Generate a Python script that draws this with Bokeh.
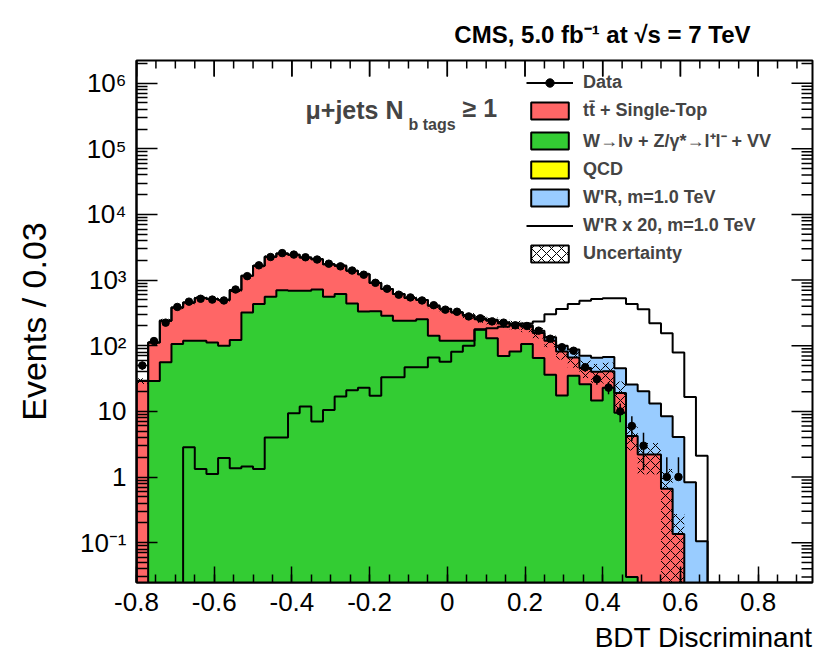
import numpy as np
from bokeh.plotting import figure
from bokeh.models import (Range1d, FixedTicker, Label, Legend, LegendItem, ColumnDataSource, Title)
from bokeh.embed import file_html
from bokeh.resources import INLINE

# ---------------- data ----------------
BIN_LO = -0.8
BIN_W = 0.03
N_BINS = 58

wjets = [0, 29, 56, 106, 119, 119, 112, 100, 122, 321,
         431, 557, 704, 687, 687, 720, 557, 612, 441, 333,
         335, 286, 240, 240, 254, 142, 119, 119, 119, 178,
         130, 70, 82, 106, 65, 36, 17.5, 35, 26, 14.6,
         23, 9.5, 0.03, 0, 0, 0, 0, 0, 0, 0,
         0, 0, 0, 0, 0, 0, 0, 0]

ttbar = [29, 83, 184, 277, 337, 413, 402, 396, 582, 842,
         1219, 1706, 1836, 1739, 1522, 1368, 1194, 1038, 945, 900,
         565, 444, 372, 292, 242, 264, 243, 202, 167, 76,
         110, 149, 127, 88, 92, 83, 64.5, 31, 20, 25.4,
         18, 9.5, 4.17, 2.2, 2.2, 0.66, 0.136, 0, 0, 0,
         0, 0, 0, 0, 0, 0, 0, 0]

wprime = [0, 0, 0, 0, 0.14, 0.067, 0.056, 0.098, 0.068, 0.072,
          0.067, 0.2, 0.2, 0.47, 0.6, 0.35, 0.53, 0.85, 1.05, 1.15,
          0.87, 1.65, 1.65, 2.35, 2.35, 3.3, 2.85, 4.05, 5.0, 8.8,
          9.25, 9.75, 10.25, 10.9, 11.75, 15.2, 18.1, 21.5, 24.2, 25.7,
          26.5, 26.5, 21.5, 18.0, 11.0, 7.75, 3.95, 0.83, 0.105, 0,
          0, 0, 0, 0, 0, 0, 0, 0]

wprime_x20 = [0, 0, 0, 0, 2.83, 1.33, 1.11, 1.95, 1.36, 1.44,
              1.33, 4.0, 4.0, 9.4, 11.9, 7.0, 10.5, 16.9, 21, 23,
              17.3, 33, 33, 47, 47, 66, 57, 81, 100, 176,
              185, 195, 205, 218, 235, 303, 362, 431, 484, 514,
              530, 530, 431, 360, 220, 155, 79, 16.5, 2.1, 0,
              0, 0, 0, 0, 0, 0, 0, 0]

data = [50, 118, 225, 390, 470, 520, 505, 490, 720, 1150,
        1680, 2250, 2580, 2450, 2230, 2060, 1780, 1620, 1400, 1210,
        910, 740, 600, 545, 490, 415, 355, 330, 280, 262,
        235, 225, 205, 200, 170, 128, 95, 84, 47, 31,
        23, 10, 6, 3, 0, 1, 1, 0, 0, 0,
        0, 0, 0, 0, 0, 0, 0, 0]

unc_rel = [0.10, 0.08, 0.07, 0.06, 0.06, 0.06, 0.06, 0.06, 0.06, 0.05,
           0.05, 0.05, 0.05, 0.05, 0.05, 0.05, 0.05, 0.05, 0.05, 0.05,
           0.06, 0.06, 0.06, 0.07, 0.07, 0.08, 0.08, 0.09, 0.10, 0.12,
           0.12, 0.14, 0.15, 0.17, 0.18, 0.20, 0.25, 0.30, 0.30, 0.32,
           0.35, 0.50, 0.40, 0.50, 0.50, 1.0, 1.0, 0, 0, 0,
           0, 0, 0, 0, 0, 0, 0, 0]

x_tick_values = [-0.8, -0.6, -0.4, -0.2, 0, 0.2, 0.4, 0.6, 0.8]
x_tick_labels = ["-0.8", "-0.6", "-0.4", "-0.2", "0", "0.2", "0.4", "0.6", "0.8"]
y_tick_values = [0.1, 1, 10, 100, 1000, 10000, 100000, 1000000]
y_tick_labels = ["10\u207b\u00b9", "1", "10", "10\u00b2", "10\u00b3", "10\u2074", "10\u2075", "10\u2076"]

legend_labels = ["Data", "tt\u0304 + Single-Top",
                 "W\u2192l\u03bd + Z/\u03b3*\u2192l\u207al\u207b + VV",
                 "QCD", "W'R, m=1.0 TeV", "W'R x 20, m=1.0 TeV", "Uncertainty"]

# ---------------- styling / layout ----------------
RED = "#FF6666"
GREEN = "#33CC33"
YELLOW = "#FFFF00"
BLUE = "#99CCFF"
FONT = "Liberation Sans"
FLOOR = 1e-4
XMIN, XMAX = -0.8, 0.94
YMIN, YMAX = 0.0247, 2.22e6
W, H = 815, 661
B_LEFT, B_RIGHT, B_TOP, B_BOTTOM = 136, 3, 60, 79
FRAME_W = W - B_LEFT - B_RIGHT
FRAME_H = H - B_TOP - B_BOTTOM

edges = BIN_LO + BIN_W * np.arange(N_BINS + 1)
left, right = edges[:-1], edges[1:]
centers = 0.5 * (left + right)

g = np.array(wjets, float)
r = np.array(ttbar, float)
w = np.array(wprime, float)
c1 = g
c2 = g + r
c3 = c2 + w


def step_pts(vals):
    xs, ys = [], []
    for i, v in enumerate(vals):
        vv = max(float(v), FLOOR)
        xs += [edges[i], edges[i + 1]]
        ys += [vv, vv]
    return xs, ys


def outline_xy(vals):
    xs, ys = step_pts(vals)
    return [edges[0]] + xs + [edges[-1]], [FLOOR] + ys + [FLOOR]


p = figure(width=W, height=H,
           x_range=Range1d(XMIN, XMAX), y_range=Range1d(YMIN, YMAX),
           y_axis_type="log", output_backend="svg", toolbar_location=None,
           min_border_left=B_LEFT, min_border_right=B_RIGHT,
           min_border_top=B_TOP, min_border_bottom=B_BOTTOM)
p.background_fill_color = "white"
p.border_fill_color = "white"
p.xgrid.visible = False
p.ygrid.visible = False
p.outline_line_color = "black"
p.outline_line_width = 2

# top title
p.title.text = "CMS, 5.0 fb\u207b\u00b9 at \u221as = 7 TeV"
p.title.align = "right"
p.title.offset = 62
p.title.standoff = 25
p.title.text_font = FONT
p.title.text_font_style = "bold"
p.title.text_font_size = "24px"
p.title.text_color = "black"

# filled stack (as continuous step areas)
sx, s0 = step_pts(np.zeros(N_BINS))
_, s1 = step_pts(c1)
_, s2 = step_pts(c2)
_, s3 = step_pts(c3)
p.varea(x=sx, y1=s0, y2=s1, fill_color=GREEN)
p.varea(x=sx, y1=s1, y2=s2, fill_color=RED)
p.varea(x=sx, y1=s2, y2=s3, fill_color=BLUE)

# outlines of the stack
for vals in (c3, c2, c1):
    xs, ys = outline_xy(vals)
    p.line(xs, ys, line_color="black", line_width=2)

# signal x 20
xs, ys = outline_xy(wprime_x20)
p.line(xs, ys, line_color="black", line_width=2)

# uncertainty band
rel = np.array(unc_rel, float)
mu = (rel > 0) & (c2 > 0)
unc_src = ColumnDataSource(dict(left=left[mu], right=right[mu],
                                bottom=np.maximum(c2[mu] * (1 - rel[mu]), FLOOR),
                                top=c2[mu] * (1 + rel[mu])))
p.quad(source=unc_src, left="left", right="right", bottom="bottom", top="top",
       fill_color=None, line_color=None, hatch_pattern="diagonal_cross",
       hatch_color="black", hatch_weight=1, hatch_scale=10)

# data
d = np.array(data, float)
md = d > 0
err = np.sqrt(d[md])
lo = np.where(d[md] - err > 0, d[md] - err, d[md])
p.segment(x0=centers[md], x1=centers[md], y0=lo, y1=d[md] + err,
          line_color="black", line_width=1.5)
p.scatter(centers[md], d[md], size=7.5, color="black")

# ---------------- axes ----------------
x_minor = [round(v, 3) for v in np.arange(-0.8, 0.94, 0.05)]
y_minor = [m * 10.0 ** k for k in range(-2, 7) for m in range(2, 10)]

xa = p.xaxis[0]
xa.ticker = FixedTicker(ticks=x_tick_values, minor_ticks=x_minor)
xa.major_label_overrides = {v: s for v, s in zip(x_tick_values, x_tick_labels)}
ya = p.yaxis[0]
ya.ticker = FixedTicker(ticks=y_tick_values, minor_ticks=y_minor)
ya.major_label_overrides = {v: s for v, s in zip(y_tick_values, y_tick_labels)}

X_MAJ, X_MIN, Y_MAJ, Y_MIN = 16, 8, 21, 11
for ax, maj, mnr in ((xa, X_MAJ, X_MIN), (ya, Y_MAJ, Y_MIN)):
    ax.major_tick_in = maj
    ax.major_tick_out = 0
    ax.minor_tick_in = mnr
    ax.minor_tick_out = 0
    ax.axis_line_width = 2
    ax.major_tick_line_width = 1.5
    ax.minor_tick_line_width = 1.5
    ax.major_label_text_font = FONT
    ax.major_label_text_font_size = "26px"
    ax.major_label_text_color = "black"
    ax.major_label_standoff = 10

ya.axis_label = "Events / 0.03"
ya.axis_label_text_font = FONT
ya.axis_label_text_font_size = "34px"
ya.axis_label_text_font_style = "normal"
ya.axis_label_text_color = "black"
ya.axis_label_standoff = 24

xtitle = Title(text="BDT Discriminant", align="right", standoff=12, offset=0,
               text_font=FONT, text_font_size="28px", text_font_style="normal",
               text_color="black")
p.add_layout(xtitle, "below")

# mirrored ticks on the top and right frame edges
px_per_decade = FRAME_H / np.log10(YMAX / YMIN)
data_per_px_x = (XMAX - XMIN) / FRAME_W
tx, ty0, ty1 = [], [], []
for t in x_tick_values + x_minor:
    L = X_MAJ if t in x_tick_values else X_MIN
    tx.append(t)
    ty0.append(YMAX / 10 ** (L / px_per_decade))
    ty1.append(YMAX)
p.segment(x0=tx, x1=tx, y0=ty0, y1=ty1, line_color="black", line_width=1.5)
ry, rx0 = [], []
for t in y_tick_values + y_minor:
    if YMIN <= t <= YMAX:
        L = Y_MAJ if t in y_tick_values else Y_MIN
        ry.append(t)
        rx0.append(XMAX - L * data_per_px_x)
p.segment(x0=rx0, x1=[XMAX] * len(ry), y0=ry, y1=ry, line_color="black", line_width=1.5)

# ---------------- legend (glyph-only dummies) ----------------
leg_data_line = p.line([0], [1e9], line_color="black", line_width=2)
leg_data_dot = p.scatter([0], [1e9], size=7.5, color="black")


def leg_box(**kw):
    return p.quad(left=[0], right=[0.01], bottom=[1e9], top=[2e9], line_color="black",
                  line_width=2, **kw)


leg_tt = leg_box(fill_color=RED)
leg_wj = leg_box(fill_color=GREEN)
leg_qcd = leg_box(fill_color=YELLOW)
leg_wp = leg_box(fill_color=BLUE)
leg_wp20 = p.line([0], [1e9], line_color="black", line_width=2)
leg_unc = leg_box(fill_color="white", hatch_pattern="diagonal_cross", hatch_color="black",
                  hatch_weight=1, hatch_scale=10)

rend = [[leg_data_line, leg_data_dot], [leg_tt], [leg_wj], [leg_qcd], [leg_wp], [leg_wp20], [leg_unc]]
items = [LegendItem(label=lab, renderers=rr) for lab, rr in zip(legend_labels, rend)]
legend = Legend(items=items, location=(390, 318), glyph_width=47, glyph_height=21,
                label_height=21, spacing=7, padding=0, margin=0, label_standoff=10,
                border_line_color=None, background_fill_alpha=0,
                label_text_font=FONT, label_text_font_style="bold", label_text_font_size="18px")
p.add_layout(legend)

# ---------------- texts inside the frame ----------------
p.add_layout(Label(x=169, y=473, x_units="screen", y_units="screen", text="\u03bc+jets N",
                   text_baseline="alphabetic", text_font=FONT, text_font_style="bold",
                   text_font_size="25px"))
p.add_layout(Label(x=272, y=458, x_units="screen", y_units="screen", text="b tags",
                   text_baseline="alphabetic", text_font=FONT, text_font_style="bold",
                   text_font_size="16px"))
p.add_layout(Label(x=326, y=475, x_units="screen", y_units="screen", text="\u2265 1",
                   text_baseline="alphabetic", text_font=FONT, text_font_style="bold",
                   text_font_size="25px"))

open("out.html", "w").write(file_html(p, INLINE))
